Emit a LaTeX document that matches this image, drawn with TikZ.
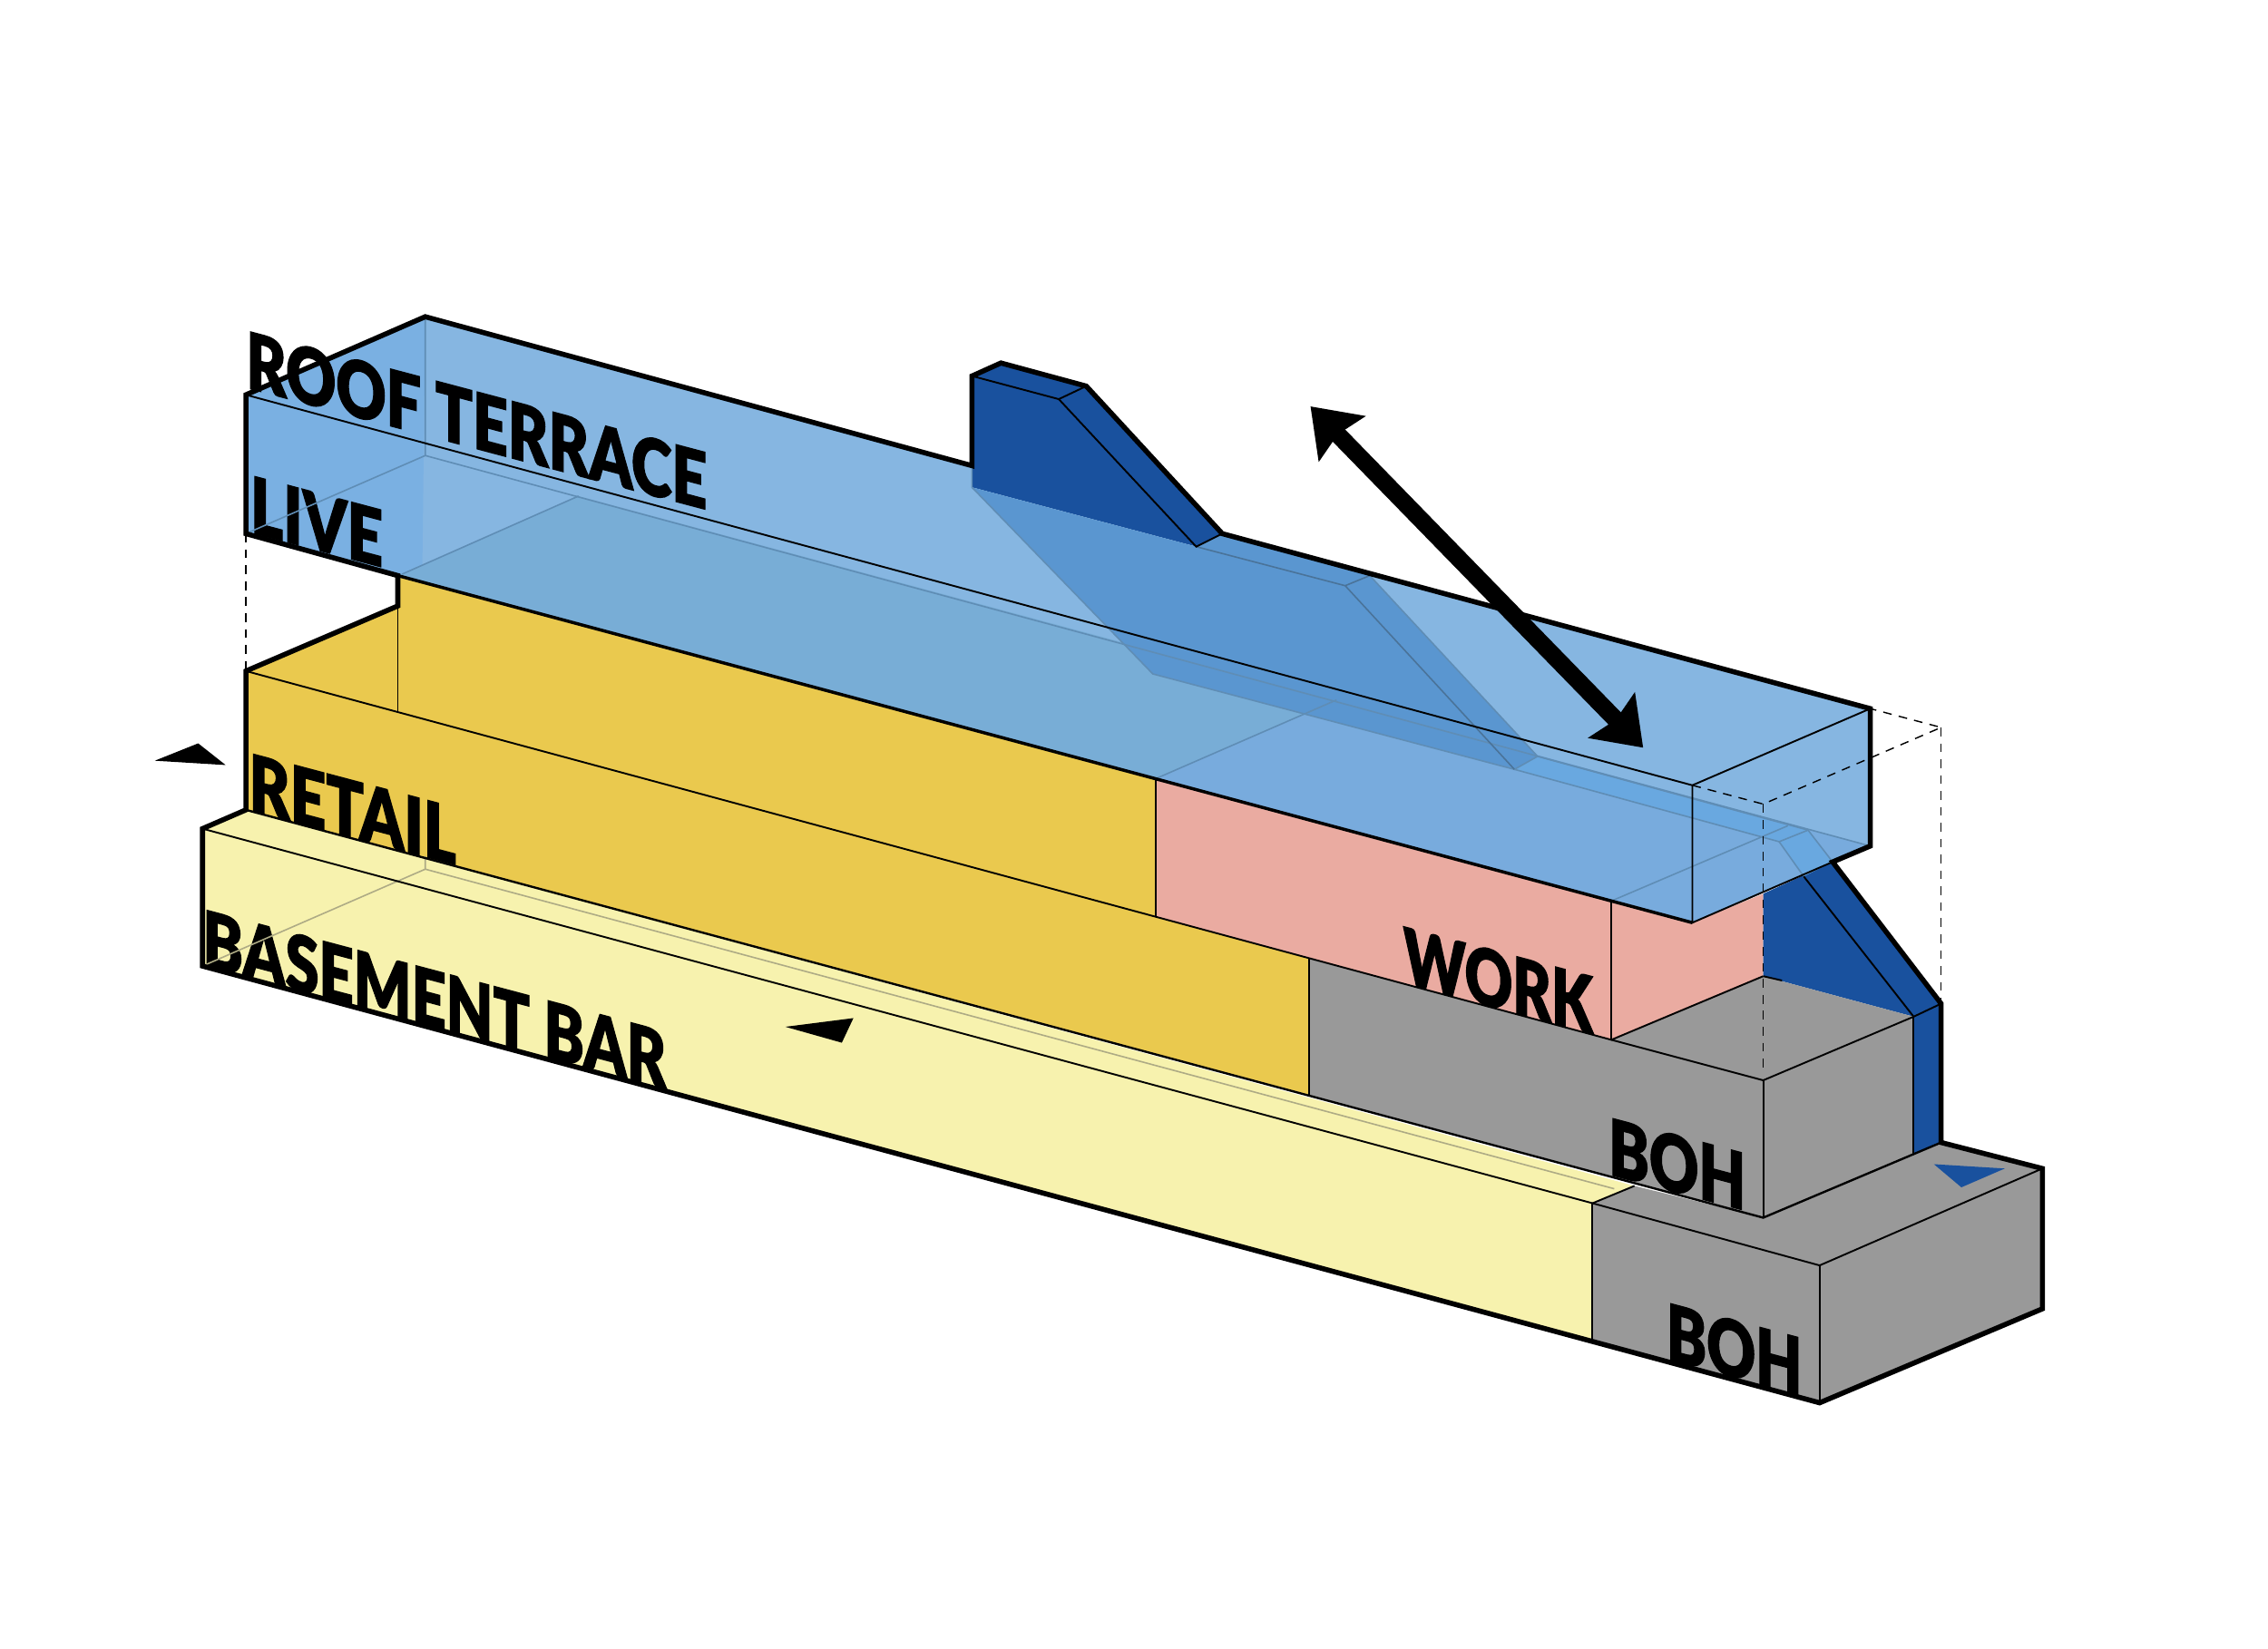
\documentclass[tikz,border=0pt]{standalone}
\usepackage{fontspec}
\setmainfont{Lato Black}[RawFeature={embolden=1.6}]
\usetikzlibrary{arrows.meta}
\definecolor{shaft}{HTML}{19519E}
\definecolor{retail}{HTML}{EAC94E}
\definecolor{basement}{HTML}{F7F2AE}
\definecolor{boh}{HTML}{999999}
\definecolor{work}{HTML}{EAABA1}
\definecolor{roof}{HTML}{86B6E1}
\definecolor{roofside}{HTML}{7AB0E2}
\definecolor{roofretail}{HTML}{78ADD6}
\definecolor{roofwork}{HTML}{78ABDD}
\definecolor{ramp}{HTML}{5A96D0}
\definecolor{rampend}{HTML}{69A8E0}
\definecolor{ghost}{HTML}{5F8DB5}
\definecolor{ghostdark}{HTML}{4A7399}
\definecolor{ghostpale}{HTML}{AEAB85}
\tikzset{
  outline/.style={line width=3.5pt,line join=miter,miter limit=3},
  edge/.style={line width=1.2pt},
  ghostline/.style={line width=1pt,ghost},
  guide/.style={line width=0.9pt,dash pattern=on 6pt off 5pt},
  tag/.style={font=\fontsize{54}{54}\selectfont,anchor=base west,inner sep=0pt,yslant=-0.265,xscale=0.8,transform shape},
  marker/.style={fill=black}
}
\begin{document}
\begin{tikzpicture}[x=1pt,y=-1pt]
  \useasboundingbox (0,0) rectangle (1568,1140.2);
  % solids
  \fill[boh] (1101,832) -- (1130,820) -- (1219,842) -- (1342,790) -- (1412,808) -- (1412,905) -- (1258,970) -- (1101,926) -- cycle;
  \fill[basement] (140,573) -- (170,560) -- (1130,820) -- (1101,832) -- (1101,926) -- (140,668) -- cycle;
  \fill[retail] (170,464) -- (275,419) -- (275,398) -- (799,538) -- (799,634) -- (905,663) -- (905,757) -- (170,560) -- cycle;
  \fill[work] (799,538) -- (1170,638) -- (1219,618) -- (1219,675) -- (1114,719) -- (799,634) -- cycle;
  \fill[shaft] (1219,618) -- (1267,596) -- (1342,694) -- (1342,790) -- (1323,798) -- (1323,703) -- (1219,675) -- cycle;
  \fill[boh] (905,663) -- (1114,719) -- (1219,675) -- (1323,703) -- (1323,798) -- (1219,842) -- (905,757) -- cycle;
  \fill[shaft] (672,260) -- (692,251) -- (751,267) -- (845,369) -- (827,378) -- (672,337) -- cycle;
  % roof volume
  \fill[roof] (170,273) -- (294,219) -- (672,322) -- (672,337) -- (827,378) -- (845,369) -- (1293,490) -- (1293,585) -- (1170,638) -- (170,369) -- cycle;
  \fill[roofside] (170,273) -- (294,219) -- (292,392) -- (275,398) -- (170,369) -- cycle;
  \fill[roofretail] (275,398) -- (400,343) -- (924,484) -- (800,538) -- cycle;
  \fill[roofwork] (800,538) -- (924,484) -- (1293,585) -- (1267,596) -- (1170,638) -- cycle;
  \fill[ramp] (672,337) -- (797,466) -- (1047,532) -- (1063,523) -- (947,398) -- (845,369) -- (827,378) -- cycle;
  \fill[rampend] (1047,532) -- (1063,523) -- (1250,574) -- (1267,596) -- (1247,606) -- (1230,582) -- cycle;
  % labels
  \node[tag,xscale=0.985] (roofterrace) at (170,268) {ROOF TERRACE};
  \node[tag] (live) at (173,368) {LIVE};
  \node[tag] (retailtag) at (172,560) {RETAIL};
  \node[tag,xscale=0.967] (basementbar) at (140,668) {BASEMENT BAR};
  \node[tag,xscale=0.94] (worktag) at (970,680) {WORK};
  \node[tag,xscale=0.97] (bohupper) at (1112,812) {BOH};
  \node[tag,xscale=0.96] (bohlower) at (1152,940) {BOH};
  % lines seen through the roof
  \draw[ghostline] (294,219) -- (294,315) -- (1293,585);
  \draw[ghostline] (170,369) -- (294,315);
  \draw[ghostline] (278,397) -- (400,343);
  \draw[ghostline] (800,538) -- (924,484);
  \draw[ghostline] (1114,623) -- (1236,571);
  \draw[ghostline] (672,322) -- (672,337) -- (797,466) -- (1047,532) -- (1063,523) -- (947,398);
  \draw[ghostdark,line width=1pt] (827,378) -- (930,405) -- (1047,532);
  \draw[ghostdark,line width=1pt] (947,398) -- (930,405);
  \draw[ghostline] (1047,532) -- (1230,582) -- (1247,606);
  \draw[ghostline] (1230,582) -- (1250,574);
  \draw[ghostline] (1063,523) -- (1250,574) -- (1267,596);
  \draw[ghostpale,line width=1pt] (294,592) -- (294,601) -- (1116,822);
  \draw[ghostpale,line width=1pt] (294,601) -- (140,668);
  % edges
  \draw[edge] (170,273) -- (1170,543) -- (1293,490);
  \draw[edge] (1170,543) -- (1170,638) -- (1267,596);
  \draw[edge] (672,260) -- (732,276) -- (751,267);
  \draw[edge] (732,276) -- (827,378) -- (845,369);
  \draw[edge] (1247,606) -- (1323,703) -- (1342,694);
  \draw[edge] (1219,675) -- (1232,678);
  \draw[edge] (1323,703) -- (1323,798);
  \draw[edge] (275,419) -- (275,493);
  \draw[edge] (170,464) -- (1114,719) -- (1219,675);
  \draw[edge] (799,538) -- (799,634);
  \draw[edge] (905,663) -- (905,757);
  \draw[edge] (1114,623) -- (1114,719);
  \draw[edge] (1114,719) -- (1219,747) -- (1323,703);
  \draw[edge] (1219,747) -- (1219,842);
  \draw[edge] (140,573) -- (1101,832) -- (1258,875) -- (1412,808);
  \draw[edge] (1101,832) -- (1130,820);
  \draw[edge] (1101,832) -- (1101,926);
  \draw[edge] (1258,875) -- (1258,970);
  \draw[line width=1.5pt] (170,560) -- (1219,842) -- (1342,790);
  \draw[line width=2.2pt] (275,398) -- (1170,638);
  % guides
  \draw[guide] (170,369) -- (170,464);
  \draw[guide] (1170,543) -- (1219,556) -- (1342,503) -- (1293,490);
  \draw[guide] (1342,503) -- (1342,694);
  \draw[guide] (1219,556) -- (1219,742);
  % silhouette
  \draw[outline] (170,369) -- (170,273) -- (294,219) -- (672,322) -- (672,260) -- (692,251) -- (751,267) -- (845,369) -- (1293,490) -- (1293,585) -- (1267,596) -- (1342,694) -- (1342,790) -- (1412,808) -- (1412,905) -- (1258,970) -- (140,668) -- (140,573) -- (170,560) -- (170,464) -- (275,419) -- (275,398) -- cycle;
  % markers
  \fill[marker] (107,526) -- (137,514) -- (156,529) -- cycle;
  \fill[marker] (543,710) -- (590,704) -- (582,721) -- cycle;
  \fill[shaft] (1337,805) -- (1386,808) -- (1356,821) -- cycle;
  \coordinate (arrowstart) at (906,281);
  \coordinate (arrowend) at (1136,517);
  \draw[line width=12pt,{Stealth[length=31pt,width=44pt,inset=4pt]}-{Stealth[length=31pt,width=44pt,inset=4pt]}] (arrowstart) -- (arrowend);
\end{tikzpicture}
\end{document}
